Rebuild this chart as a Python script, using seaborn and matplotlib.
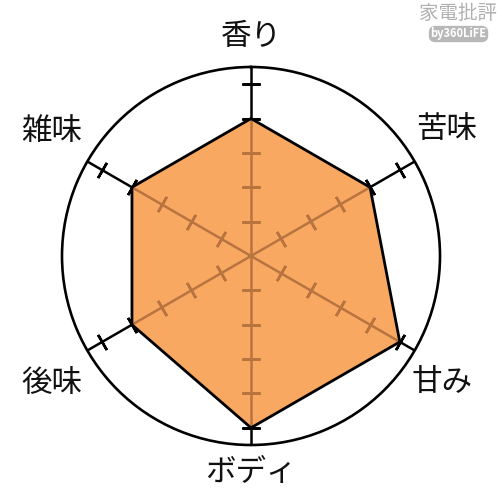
import numpy as np
import pandas as pd
import matplotlib
matplotlib.use("Agg")
from matplotlib import pyplot as plt
import seaborn as sns

# Data
categories = ["香り", "苦味", "甘み", "ボディ", "後味", "雑味"]
scores = [4, 4, 5, 5, 4, 4]
tick_levels = [1, 2, 3, 4, 5]

sns.set_theme(style="white")
plt.rcParams["font.family"] = ["Noto Sans CJK JP", "DejaVu Sans"]

R_MAX = 5.5
FILL = "#F9A862"
BROWN = "#B8743F"

theta = np.deg2rad(np.arange(len(categories)) * 360 / len(categories))
df = pd.DataFrame({"theta": np.append(theta, theta[0]),
                   "score": scores + scores[:1]})

fig = plt.figure(figsize=(5, 5), dpi=100)
fig.patch.set_facecolor("white")
ax = fig.add_axes([0.124, 0.11, 0.756, 0.756], projection="polar")
ax.set_theta_zero_location("N")
ax.set_theta_direction(-1)
ax.set_ylim(0, R_MAX)
ax.grid(False)
ax.set_xticks([])
ax.set_yticks([])
ax.set_facecolor("white")
ax.spines["polar"].set_linewidth(1.9)
ax.spines["polar"].set_color("black")


def draw_axes(color, z, clip=None):
    for t in theta:
        ln, = ax.plot([t, t], [0, R_MAX], color=color, lw=1.8, zorder=z)
        rot = 90 - np.rad2deg(t)
        mk, = ax.plot([t] * len(tick_levels), tick_levels, ls="none",
                      marker=(2, 2, rot), markersize=12.5, mew=1.8,
                      color=color, zorder=z)
        if clip is not None:
            ln.set_clip_path(clip)
            mk.set_clip_path(clip)


# black spokes under the fill
draw_axes("black", 2)

# filled area
poly = ax.fill(df["theta"], df["score"], color=FILL, zorder=3, lw=0)[0]

# spokes seen through the fill
draw_axes(BROWN, 4, clip=poly)

# outline
sns.lineplot(data=df, x="theta", y="score", sort=False, estimator=None,
             color="black", lw=2.0, ax=ax, zorder=5)
ax.set_xlabel("")
ax.set_ylabel("")

# category labels
label_pos = [(0, 6.4), (57.2, 6.77), (123.5, 6.65),
             (180, 6.3), (237.5, 6.88), (302, 6.85)]
for name, (ang, r) in zip(categories, label_pos):
    ax.text(np.deg2rad(ang), r, name, fontsize=22, ha="center", va="center",
            color="#111111", clip_on=False)

# watermark
fig.text(0.915, 0.953, "家電批評", fontsize=14, color="#b0b0b0",
         ha="center", va="bottom")
fig.text(0.917, 0.932, "by360LiFE", fontsize=8, color="white",
         weight="bold", ha="center", va="center",
         bbox=dict(boxstyle="round,pad=0.15,rounding_size=0.6",
                   fc="#b8b8b8", ec="none"))

plt.savefig("out.png", dpi=100)
